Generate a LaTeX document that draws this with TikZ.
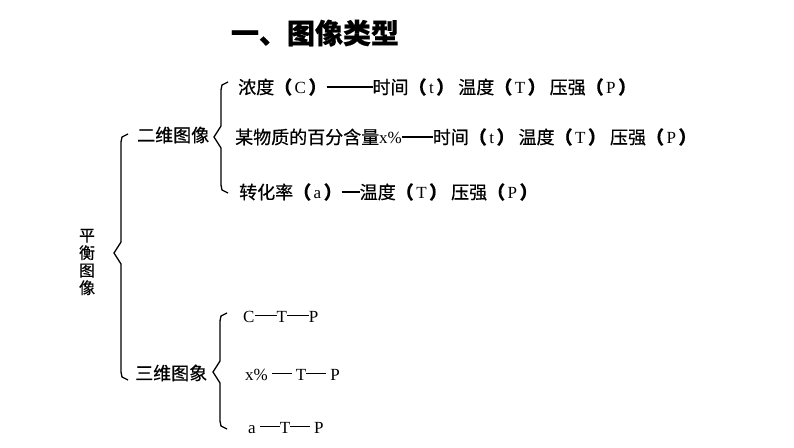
\documentclass[tikz,border=0pt]{standalone}
\usepackage{fontspec}
\newfontfamily\cjk[FakeBold=0.5]{Noto Sans CJK SC}
\newfontfamily\lat{Liberation Serif}
\usetikzlibrary{positioning, calc}

\newcommand{\dash}[1]{\rule[0.34em]{#1}{1.3pt}}
\newcommand{\ltr}[1]{{\lat\fontsize{17}{18}\selectfont #1}}
\newcommand{\pp}[1]{{\bfseries （}\hspace{2.5pt}\ltr{#1}\hspace{2.5pt}{\bfseries ）}}

\begin{document}
\begin{tikzpicture}[
  x=1pt, y=-1pt,
  font=\cjk\fontsize{18}{20}\selectfont,
  item/.style={anchor=west, inner sep=0pt},
  brk/.style={black, line width=1.3pt, line join=miter},
]

% ============================================================================
% canvas (pixel coordinates, y downwards)
% ============================================================================
\useasboundingbox[fill=white] (0,0) rectangle (794,447);

% bracket: #1 = x of the bar, #2 = top y, #3 = tip y, #4 = bottom y
\newcommand{\bracket}[4]{%
  \draw[brk] (#1+7,#2-3) -- (#1+1,#2) -- (#1,#2+5)
    -- (#1,#3-11) -- (#1-7,#3) -- (#1,#3+11)
    -- (#1,#4-5) -- (#1+1,#4) -- (#1+7,#4+3);
}

% ============================================================================
% title
% ============================================================================
\node[inner sep=0pt, font=\cjk\bfseries\fontsize{28}{30}\selectfont]
  (title) at (315,33) {一、图像类型};

% ============================================================================
% left: main bracket
% ============================================================================
\node[inner sep=0pt, align=center, font=\cjk\fontsize{16}{17.5}\selectfont]
  (eq) at (87,262) {平\\衡\\图\\像};
\bracket{121}{137}{253}{377}

\node[item] (twoD) at (137,135) {二维图像};
\node[item] (threeD) at (135,373) {三维图象};

% ============================================================================
% upper group: 2D plots
% ============================================================================
\bracket{221}{85}{137}{190}

\node[item] (conc) at (238,87)
  {浓度\pp{C}\dash{46pt}时间\pp{t} 温度\pp{T} 压强\pp{P}};
\node[item] (frac) at (235,137)
  {某物质的百分含量\ltr{x\%}\dash{31pt}时间\pp{t} 温度\pp{T} 压强\pp{P}};
\node[item] (conv) at (239,192)
  {转化率\pp{a}\dash{18pt}温度\pp{T} 压强\pp{P}};

% ============================================================================
% lower group: 3D plots
% ============================================================================
\bracket{220}{316}{372}{426}

\node[item] (ctp) at (243,317) {\ltr{C}\dash{22pt}\ltr{T}\dash{22pt}\ltr{P}};
\node[item] (xtp) at (245,375) {\ltr{x\%} \dash{20pt} \ltr{T}\dash{20pt} \ltr{P}};
\node[item] (atp) at (248,428) {\ltr{a} \dash{20pt}\ltr{T}\dash{20pt} \ltr{P}};

\end{tikzpicture}
\end{document}
